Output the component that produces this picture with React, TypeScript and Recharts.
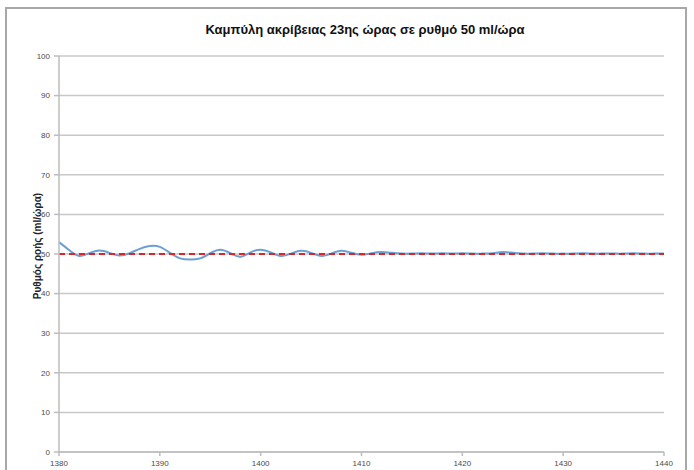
import React from "react";
import {
  LineChart,
  Line,
  CartesianGrid,
  XAxis,
  YAxis,
} from "recharts";

const minutes = [
  1380, 1381, 1382, 1383, 1384, 1385, 1386, 1387, 1388, 1389, 1390, 1391,
  1392, 1393, 1394, 1395, 1396, 1397, 1398, 1399, 1400, 1401, 1402, 1403,
  1404, 1405, 1406, 1407, 1408, 1409, 1410, 1411, 1412, 1413, 1414, 1415,
  1416, 1417, 1418, 1419, 1420, 1421, 1422, 1423, 1424, 1425, 1426, 1427,
  1428, 1429, 1430, 1431, 1432, 1433, 1434, 1435, 1436, 1437, 1438, 1439,
  1440,
];

const flowRate = [
  53.0, 51.0, 49.5, 50.2, 50.9, 50.3, 49.6, 50.2, 51.3, 52.0, 51.8, 50.3,
  48.9, 48.6, 48.9, 50.2, 51.1, 50.2, 49.3, 50.4, 51.1, 50.4, 49.5, 50.1,
  50.8, 50.3, 49.5, 50.1, 50.8, 50.3, 49.8, 50.2, 50.5, 50.3, 50.1, 50.1,
  50.2, 50.1, 50.2, 50.1, 50.2, 50.1, 50.1, 50.2, 50.5, 50.3, 50.1, 50.1,
  50.2, 50.1, 50.1, 50.1, 50.2, 50.1, 50.1, 50.1, 50.1, 50.2, 50.1, 50.1,
  50.1,
];

const targetRate = minutes.map(() => 50);

const xTicks = [1380, 1390, 1400, 1410, 1420, 1430, 1440];
const yTicks = [0, 10, 20, 30, 40, 50, 60, 70, 80, 90, 100];

const chartTitle = "Καμπύλη ακρίβειας 23ης ώρας σε ρυθμό 50 ml/ώρα";
const yLabel = "Ρυθμός ροής (ml/ώρα)";

const data = minutes.map((m, i) => ({
  minute: m,
  rate: flowRate[i],
  target: targetRate[i],
}));

const tickStyle = { fontFamily: "Liberation Sans", fontSize: 8, fill: "#4a4a4a" };

const App: React.FC = () => {
  return (
    <div style={{ position: "fixed", left: 0, top: 0, width: 694, height: 470, background: "#fff", overflow: "hidden" }}>
      <div
        style={{
          position: "absolute",
          left: 0,
          width: 694,
          top: 22,
          textAlign: "center",
          paddingLeft: 36,
          boxSizing: "border-box",
          fontFamily: "Liberation Sans",
          fontWeight: "bold",
          fontSize: 13,
          color: "#111",
        }}
      >
        {chartTitle}
      </div>
      <div style={{ position: "absolute", left: 0, top: 0 }}>
        <LineChart width={694} height={470} data={data} margin={{ top: 56, right: 30, left: 0, bottom: 0 }}>
          <CartesianGrid vertical={false} stroke="#c8c8c8" strokeWidth={1.5} />
          <XAxis
            dataKey="minute"
            type="number"
            domain={[1380, 1440]}
            ticks={xTicks}
            height={18}
            tick={tickStyle}
            tickSize={4}
            tickMargin={4}
            stroke="#bdbdbd"
            strokeWidth={1.5}
          />
          <YAxis
            domain={[0, 100]}
            ticks={yTicks}
            width={59}
            tick={tickStyle}
            tickSize={5}
            tickMargin={4}
            stroke="#bdbdbd"
            strokeWidth={1.5}
            label={{
              content: (props: any) => {
                const vb = props.viewBox || {};
                const cx = 37;
                const cy = (vb.y ?? 56) + (vb.height ?? 396) / 2 - 8;
                return (
                  <text
                    x={cx}
                    y={cy}
                    transform={`rotate(-90 ${cx} ${cy})`}
                    textAnchor="middle"
                    dominantBaseline="central"
                    fontFamily="Liberation Sans"
                    fontSize={10}
                    fontWeight={600}
                    fill="#222"
                  >
                    {yLabel}
                  </text>
                );
              },
            }}
          />
          <Line
            type="natural"
            dataKey="rate"
            stroke="#6d9fd2"
            strokeWidth={2}
            dot={false}
            isAnimationActive={false}
          />
          <Line
            type="linear"
            dataKey="target"
            stroke="#d9262a"
            strokeWidth={2}
            strokeDasharray="6 4"
            dot={false}
            isAnimationActive={false}
          />
        </LineChart>
      </div>
      {/* chart frame */}
      <div
        style={{
          position: "absolute",
          left: 5,
          top: 7,
          width: 678,
          height: 480,
          border: "2px solid #a8a8a8",
          pointerEvents: "none",
        }}
      />
    </div>
  );
};

export default App;
